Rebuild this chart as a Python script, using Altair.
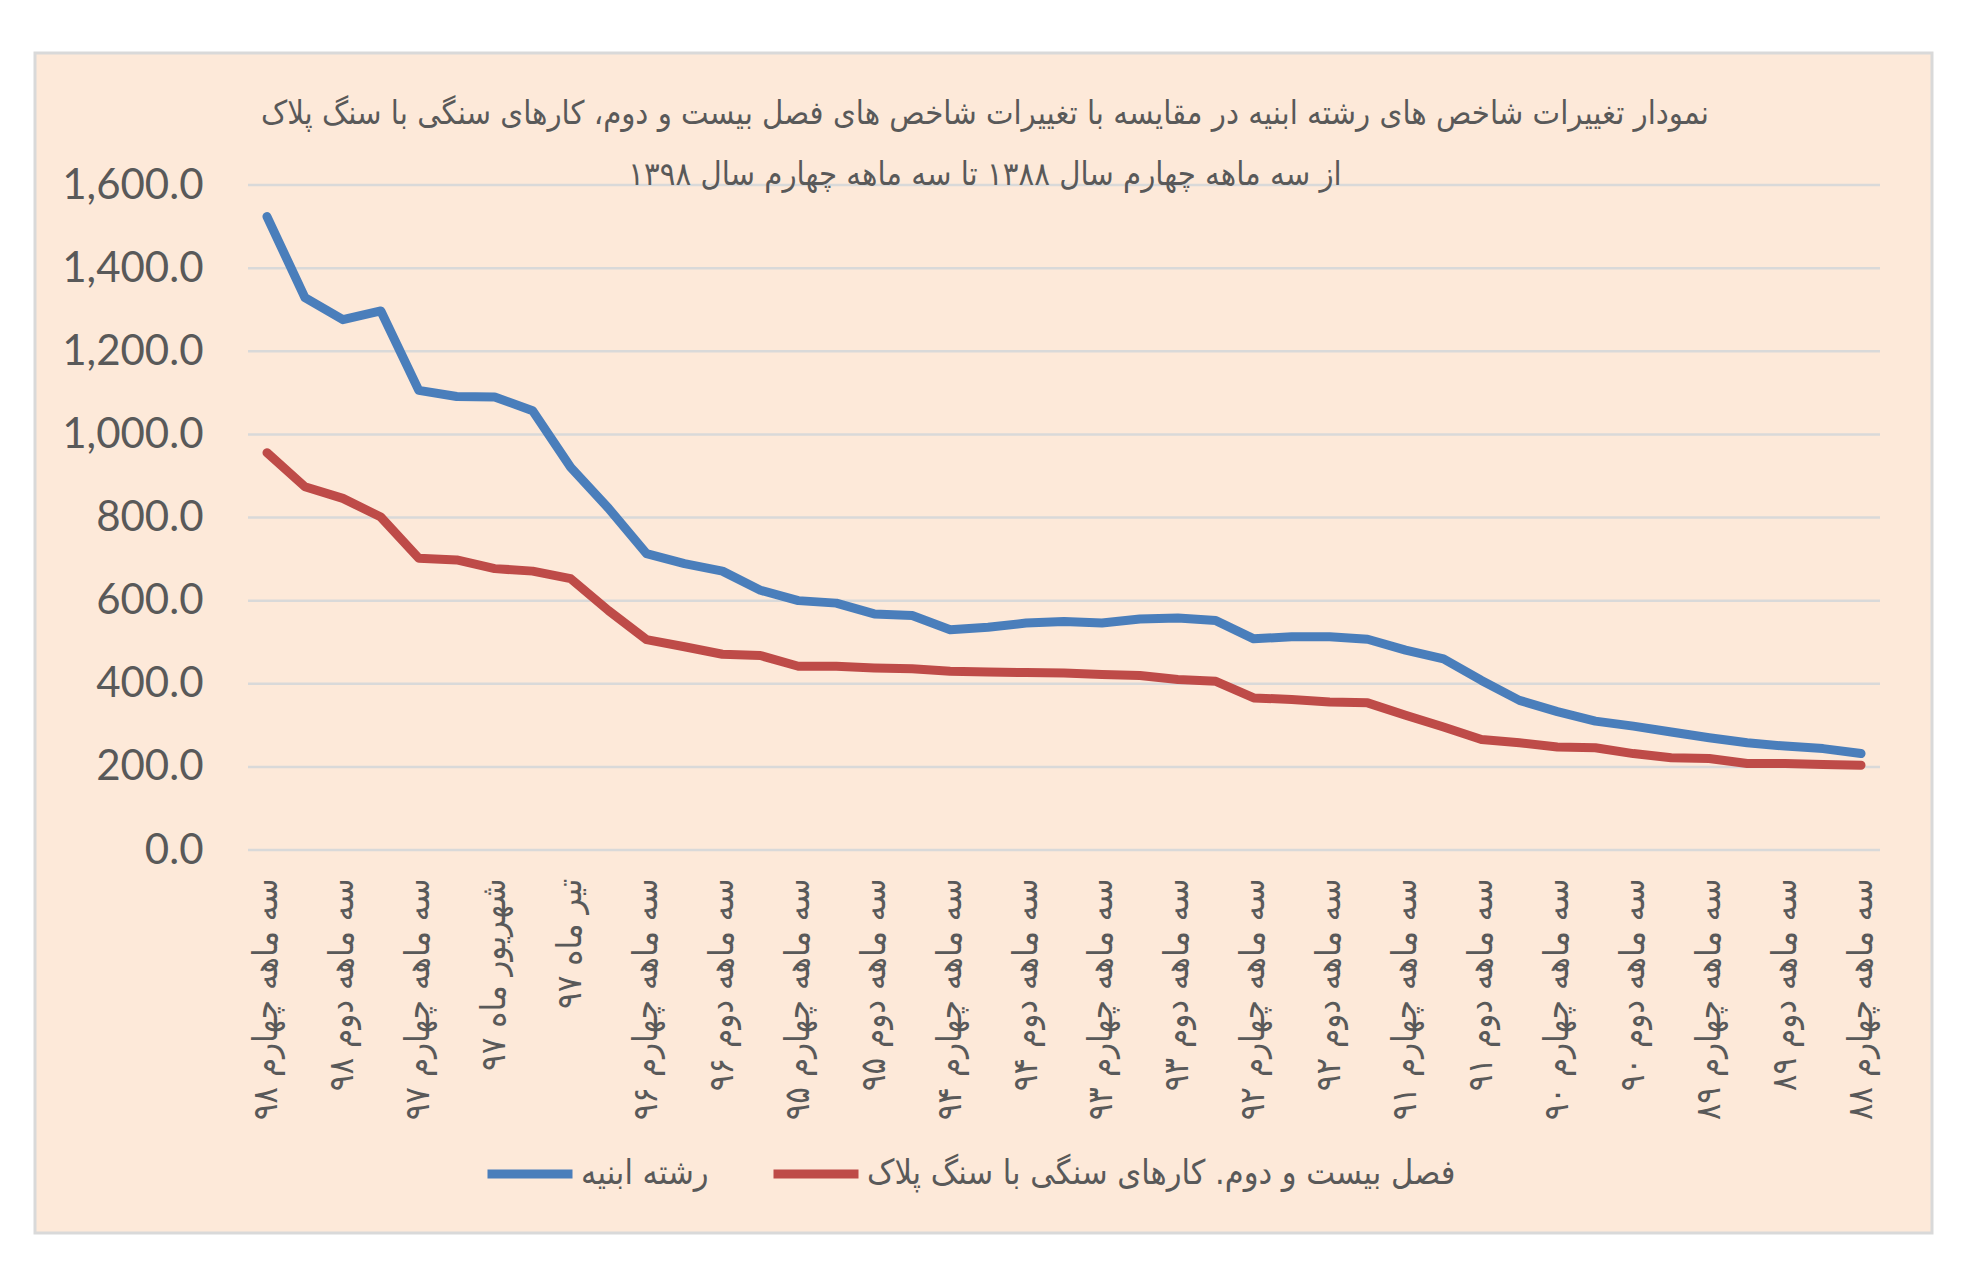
import altair as alt
import pandas as pd

categories = [
    "سه ماهه چهارم ۹۸", "سه ماهه سوم ۹۸", "سه ماهه دوم ۹۸", "سه ماهه اول ۹۸",
    "سه ماهه چهارم ۹۷", "سه ماهه سوم ۹۷", "شهریور ماه ۹۷", "مرداد ماه ۹۷",
    "تیر ماه ۹۷", "سه ماهه اول ۹۷", "سه ماهه چهارم ۹۶", "سه ماهه سوم ۹۶",
    "سه ماهه دوم ۹۶", "سه ماهه اول ۹۶", "سه ماهه چهارم ۹۵", "سه ماهه سوم ۹۵",
    "سه ماهه دوم ۹۵", "سه ماهه اول ۹۵", "سه ماهه چهارم ۹۴", "سه ماهه سوم ۹۴",
    "سه ماهه دوم ۹۴", "سه ماهه اول ۹۴", "سه ماهه چهارم ۹۳", "سه ماهه سوم ۹۳",
    "سه ماهه دوم ۹۳", "سه ماهه اول ۹۳", "سه ماهه چهارم ۹۲", "سه ماهه سوم ۹۲",
    "سه ماهه دوم ۹۲", "سه ماهه اول ۹۲", "سه ماهه چهارم ۹۱", "سه ماهه سوم ۹۱",
    "سه ماهه دوم ۹۱", "سه ماهه اول ۹۱", "سه ماهه چهارم ۹۰", "سه ماهه سوم ۹۰",
    "سه ماهه دوم ۹۰", "سه ماهه اول ۹۰", "سه ماهه چهارم ۸۹", "سه ماهه سوم ۸۹",
    "سه ماهه دوم ۸۹", "سه ماهه اول ۸۹", "سه ماهه چهارم ۸۸",
]

tick_labels = [
    "سه ماهه چهارم ۹۸", "سه ماهه دوم ۹۸", "سه ماهه چهارم ۹۷", "شهریور ماه ۹۷",
    "تیر ماه ۹۷", "سه ماهه چهارم ۹۶", "سه ماهه دوم ۹۶", "سه ماهه چهارم ۹۵",
    "سه ماهه دوم ۹۵", "سه ماهه چهارم ۹۴", "سه ماهه دوم ۹۴", "سه ماهه چهارم ۹۳",
    "سه ماهه دوم ۹۳", "سه ماهه چهارم ۹۲", "سه ماهه دوم ۹۲", "سه ماهه چهارم ۹۱",
    "سه ماهه دوم ۹۱", "سه ماهه چهارم ۹۰", "سه ماهه دوم ۹۰", "سه ماهه چهارم ۸۹",
    "سه ماهه دوم ۸۹", "سه ماهه چهارم ۸۸",
]

abnieh = [1524, 1329, 1276, 1297, 1106, 1091, 1090, 1057, 921, 822, 713, 689,
          671, 625, 600, 594, 568, 564, 530, 536, 546, 550, 546, 556, 558, 552,
          508, 513, 513, 507, 481, 460, 408, 360, 333, 310, 298, 284, 270, 258,
          250, 244, 232]

sang = [956, 874, 846, 801, 702, 698, 677, 671, 653, 576, 506, 489, 471, 468,
        442, 442, 438, 436, 430, 428, 427, 426, 422, 420, 410, 406, 366, 362,
        356, 354, 324, 296, 266, 258, 248, 246, 232, 222, 220, 208, 208, 206, 204]

series_names = ["رشته ابنیه", "فصل بیست و دوم. کارهای سنگی با سنگ پلاک"]
series_colors = ["#4A7EBB", "#BE4B48"]
y_ticks = [0, 200, 400, 600, 800, 1000, 1200, 1400, 1600]

title_lines = [
    "نمودار تغییرات شاخص های رشته ابنیه در مقایسه با تغییرات شاخص های فصل بیست و دوم، کارهای سنگی با سنگ پلاک",
    "از سه ماهه چهارم سال ۱۳۸۸ تا سه ماهه چهارم سال ۱۳۹۸",
]

rows = []
for c, v in zip(categories, abnieh):
    rows.append({"cat": c, "value": v, "series": series_names[0]})
for c, v in zip(categories, sang):
    rows.append({"cat": c, "value": v, "series": series_names[1]})
df = pd.DataFrame(rows)

FA_FONT = "DejaVu Sans Condensed, DejaVu Sans"
GRAY = "#595959"
W, H = 1632, 665

frame = alt.Chart(pd.DataFrame({"k": [0]})).mark_rect(
    fill="#FDE9D9", stroke="#D9D9D9", strokeWidth=3
).encode(
    x=alt.value(-213), x2=alt.value(1684), y=alt.value(-132), y2=alt.value(1048)
)

grid = alt.Chart(pd.DataFrame({"v": y_ticks})).mark_rule(
    color="#D9D9D9", strokeWidth=2.5
).encode(y=alt.Y("v:Q", scale=alt.Scale(domain=[0, 1600], nice=False)))

lines = alt.Chart(df).mark_line(
    strokeWidth=9, strokeCap="round", strokeJoin="round"
).encode(
    x=alt.X(
        "cat:N", sort=categories,
        scale=alt.Scale(type="point", padding=0.5),
        axis=alt.Axis(
            values=tick_labels, labelAngle=270, title=None, domain=False,
            ticks=False, grid=False, labelFont=FA_FONT, labelFontSize=34.5,
            labelColor=GRAY, labelPadding=28, labelLimit=0, zindex=1,
        ),
    ),
    y=alt.Y(
        "value:Q", scale=alt.Scale(domain=[0, 1600], nice=False),
        axis=alt.Axis(
            values=y_ticks, format=",.1f", title=None, domain=False, ticks=False,
            grid=False, labelFont="Lato", labelFontSize=42, labelColor=GRAY,
            labelPadding=45, zindex=1,
        ),
    ),
    color=alt.Color(
        "series:N", sort=series_names,
        scale=alt.Scale(domain=series_names, range=series_colors),
        legend=alt.Legend(
            orient="none", legendX=235, legendY=942, direction="horizontal",
            title=None, symbolType="stroke", symbolSize=7225,
            symbolStrokeWidth=9, labelFont=FA_FONT, labelFontSize=34,
            labelColor=GRAY, columnPadding=46, labelOffset=4, labelLimit=0,
            zindex=1,
        ),
    ),
)

chart = alt.layer(frame, grid, lines).properties(
    width=W, height=H,
    autosize=alt.AutoSizeParams(type="none"),
    padding={"left": 240, "top": 177, "right": 80, "bottom": 400},
    title=alt.TitleParams(
        text=title_lines, anchor="middle", dx=-79, offset=-140, font=FA_FONT,
        fontSize=32.5, fontWeight="normal", color=GRAY, lineHeight=61,
        frame="group",
    ),
).configure_view(stroke=None).configure(background="white")

chart.save("out.html", embed_options={"renderer": "svg", "actions": False})
